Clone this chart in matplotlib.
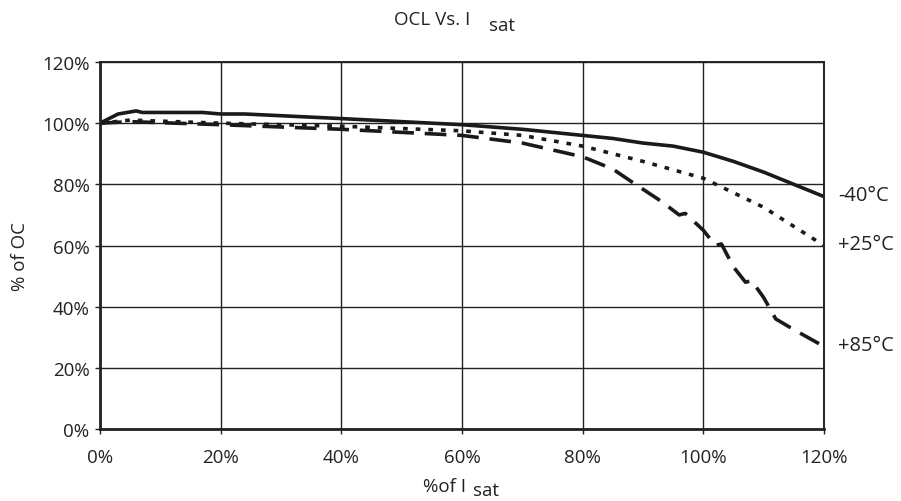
import matplotlib.pyplot as plt

plt.rcParams['font.family'] = ['Open Sans', 'DejaVu Sans']

# % of Isat vs % of OCL
x_m40 = [0, 3, 6, 7, 17, 20, 24, 40, 60, 70, 80, 85, 90, 95, 100, 105, 110, 115, 120]
y_m40 = [100, 103, 104, 103.5, 103.5, 103, 103, 101.5, 99.5, 98, 96, 95, 93.5, 92.5, 90.5, 87.5, 84, 80, 76]

x_p25 = [0, 5, 20, 40, 60, 70, 80, 90, 100, 110, 120]
y_p25 = [100, 101, 100, 99, 97.5, 96, 92.5, 87.5, 82, 72.5, 60]

x_p85 = [0, 5, 20, 40, 60, 70, 80, 85, 88, 93, 96, 97, 100, 102, 103, 105, 107, 108, 110, 112, 115, 120]
y_p85 = [100, 100.5, 99.5, 98, 96, 93.5, 89, 85, 81, 74.5, 70, 70.5, 65, 60, 60.5, 53, 48, 48.5, 43, 36, 32.5, 27]

labels = ['-40°C', '+25°C', '+85°C']
ticks = [0, 20, 40, 60, 80, 100, 120]

fig = plt.figure(figsize=(9.01, 5.02), dpi=100)
ax = fig.add_axes([0.111, 0.1434, 0.8035, 0.7311])

ax.plot(x_m40, y_m40, color='#1a1a1a', lw=2.6, solid_joinstyle='round')
ax.plot(x_p25, y_p25, color='#1a1a1a', lw=2.6, linestyle=(0, (1.3, 2.2)))
ax.plot(x_p85, y_p85, color='#1a1a1a', lw=2.6, linestyle=(0, (6, 3)))

ax.set_xlim(0, 120)
ax.set_ylim(0, 120)
ax.set_xticks(ticks)
ax.set_yticks(ticks)
ax.set_xticklabels([f'{t}%' for t in ticks], fontsize=13.5, color='#222222')
ax.set_yticklabels([f'{t}%' for t in ticks], fontsize=13.5, color='#222222')
ax.grid(True, color='#222222', lw=1)
ax.tick_params(direction='out', length=3.6, width=1, color='#222222')
ax.tick_params(axis='x', pad=10)
ax.tick_params(axis='y', pad=4)
for side in ['left', 'bottom']:
    ax.spines[side].set_linewidth(2)
for side in ['top', 'right']:
    ax.spines[side].set_linewidth(1.4)
for s in ax.spines.values():
    s.set_color('#222222')

for lab, yv in zip(labels, [y_m40[-1], y_p25[-1], y_p85[-1]]):
    ax.text(122.3, yv + 0.5, lab, fontsize=14.5, va='center', ha='left', color='#222222', clip_on=False)

fig.text(0.022, 0.49, '% of OC', fontsize=13.5, rotation=90, ha='center', va='center', color='#222222')

fig.text(0.522, 0.96, 'OCL Vs. I', fontsize=13.5, ha='right', va='center', color='#222222')
fig.text(0.543, 0.948, 'sat', fontsize=13.5, ha='left', va='center', color='#222222')
fig.text(0.517, 0.03, '%of I', fontsize=13.5, ha='right', va='center', color='#222222')
fig.text(0.525, 0.022, 'sat', fontsize=13.5, ha='left', va='center', color='#222222')

fig.savefig('out.png', dpi=100, facecolor='white')
